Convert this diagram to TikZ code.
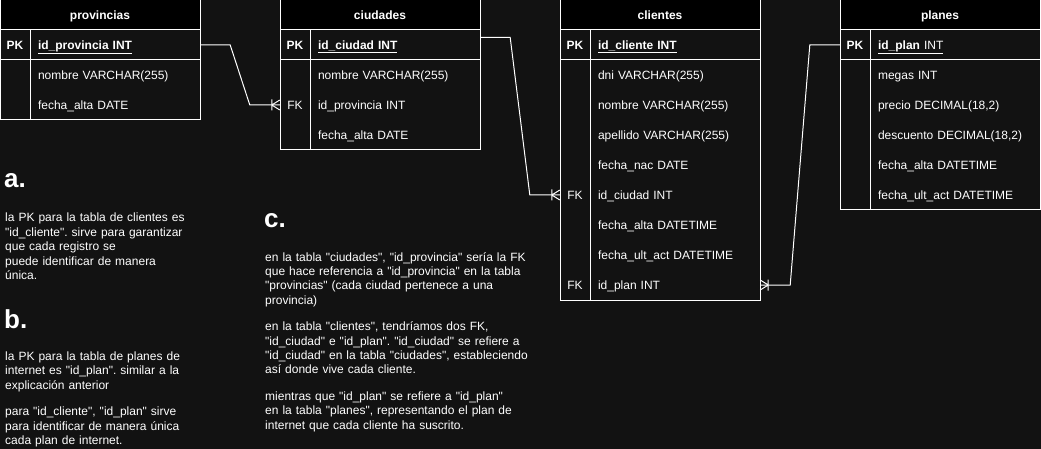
\documentclass[tikz,border=0pt]{standalone}
\usepackage{fontspec}
\setmainfont{Liberation Sans}[Ligatures=TeXOff]
\definecolor{bgc}{HTML}{121212}
\frenchspacing

\begin{document}
\begin{tikzpicture}[x=1pt, y=-1pt, font=\fontsize{12}{14.4}\selectfont, text=white,
    tbl/.style={draw=white, fill=bgc, line width=1pt},
    hdr/.style={draw=white, fill=black, line width=1pt, minimum width=200pt, minimum height=30pt, inner sep=0pt, font=\fontsize{12}{14.4}\selectfont\bfseries, text height=8.6pt, text depth=0pt},
    fld/.style={text width=154pt, inner xsep=8pt, inner ysep=0pt, minimum height=30pt, align=left, text height=8.6pt, text depth=0pt},
    key/.style={minimum width=30pt, minimum height=30pt, inner sep=0pt, text height=8.6pt, text depth=0pt},
    head/.style={anchor=base west, inner sep=0pt, font=\fontsize{26}{30}\selectfont\bfseries},
    note/.style={anchor=base west, inner sep=0pt, text width=300pt, align=left},
    conn/.style={draw=white, line width=1pt},
    onemany/.pic={\draw[conn] (-8,-5.5) -- (-8,5.5) (-8,0) -- (0,-5) (-8,0) -- (0,5);}]
    \useasboundingbox (0,0) rectangle (1041,449);
    \fill[bgc] (0,0) rectangle (1041,449);

    % provincias
    \draw[tbl] (0,30) rectangle (200,120) (0,60) -- (200,60) (30,30) -- (30,120);
    \node[hdr] (prov) at (100,15) {provincias};
    \foreach \y/\k/\txt [count=\i from 0] in {45/\textbf{PK}/\underline{\textbf{id\_provincia INT}},75//nombre VARCHAR(255),105//fecha\_alta DATE}{
        \node[key] (prov-k\i) at (15,\y) {\k};
        \node[fld] (prov-f\i) at (115,\y) {\txt};}

    % ciudades
    \draw[tbl] (280,30) rectangle (480,150) (280,60) -- (480,60) (310,30) -- (310,150);
    \node[hdr] (ciu) at (380,15) {ciudades};
    \foreach \y/\k/\txt [count=\i from 0] in {45/\textbf{PK}/\underline{\textbf{id\_ciudad INT}},75//nombre VARCHAR(255),105/FK/id\_provincia INT,135//fecha\_alta DATE}{
        \node[key] (ciu-k\i) at (295,\y) {\k};
        \node[fld] (ciu-f\i) at (395,\y) {\txt};}

    % clientes
    \draw[tbl] (560,30) rectangle (760,300) (560,60) -- (760,60) (590,30) -- (590,300);
    \node[hdr] (cli) at (660,15) {clientes};
    \foreach \y/\k/\txt [count=\i from 0] in {45/\textbf{PK}/\underline{\textbf{id\_cliente INT}},75//dni VARCHAR(255),105//nombre VARCHAR(255),135//apellido VARCHAR(255),165//fecha\_nac DATE,195/FK/id\_ciudad INT,225//fecha\_alta DATETIME,255//fecha\_ult\_act DATETIME,285/FK/id\_plan INT}{
        \node[key] (cli-k\i) at (575,\y) {\k};
        \node[fld] (cli-f\i) at (675,\y) {\txt};}

    % planes
    \draw[tbl] (840,30) rectangle (1040,210) (840,60) -- (1040,60) (870,30) -- (870,210);
    \node[hdr] (pla) at (940,15) {planes};
    \foreach \y/\k/\txt [count=\i from 0] in {45/\textbf{PK}/\underline{\textbf{id\_plan} INT},75//megas INT,105//{precio DECIMAL(18,2)},135//{descuento DECIMAL(18,2)},165//fecha\_alta DATETIME,195//fecha\_ult\_act DATETIME}{
        \node[key] (pla-k\i) at (855,\y) {\k};
        \node[fld] (pla-f\i) at (955,\y) {\txt};}

    % relaciones
    \draw[conn] (prov-f0.east) -- ++(30,0) -- ([xshift=-30pt]ciu-k2.west) -- (ciu-k2.west);
    \pic at (ciu-k2.west) {onemany};
    \draw[conn] ([yshift=7.5pt]ciu-f0.east) -- ++(30,0) -- ([xshift=-30pt]cli-k5.west) -- (cli-k5.west);
    \pic at (cli-k5.west) {onemany};
    \draw[conn] (pla-k0.west) -- ++(-30,0) -- ([xshift=30pt]cli-f8.east) -- (cli-f8.east);
    \pic[xscale=-1] at (cli-f8.east) {onemany};

    % notas
    \node[head] (ha) at (4,188) {a.};
    \node[note] (na) at (5,222) {la PK para la tabla de clientes es\\"id\_cliente". sirve para garantizar\\que cada registro se\\puede identificar de manera\\única.};
    \node[head] (hb) at (4,328) {b.};
    \node[note] (nb) at (5,360.5) {la PK para la tabla de planes de\\internet es "id\_plan". similar a la\\explicación anterior\\[12pt]para "id\_cliente", "id\_plan" sirve\\para identificar de manera única\\cada plan de internet.};
    \node[head] (hc) at (264,228) {c.};
    \node[note] (nc) at (265,261) {en la tabla "ciudades", "id\_provincia" sería la FK\\que hace referencia a "id\_provincia" en la tabla\\"provincias" (cada ciudad pertenece a una\\provincia)\\[12pt]en la tabla "clientes", tendríamos dos FK,\\"id\_ciudad" e "id\_plan". "id\_ciudad" se refiere a\\"id\_ciudad" en la tabla "ciudades", estableciendo\\así donde vive cada cliente.\\[12pt]mientras que "id\_plan" se refiere a "id\_plan"\\en la tabla "planes", representando el plan de\\internet que cada cliente ha suscrito.};
\end{tikzpicture}
\end{document}
